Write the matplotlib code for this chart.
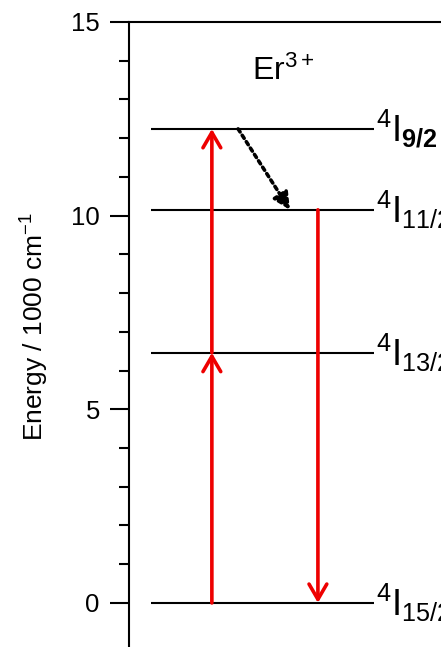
import numpy as np
import matplotlib.pyplot as plt
from matplotlib.ticker import FixedLocator

plt.rcParams['font.family'] = ['Liberation Sans', 'DejaVu Sans']
plt.rcParams['mathtext.fontset'] = 'custom'
plt.rcParams['mathtext.rm'] = 'Liberation Sans'
plt.rcParams['mathtext.it'] = 'Liberation Sans'
plt.rcParams['mathtext.bf'] = 'Liberation Sans:bold'

# Er3+ energy levels (1000 cm^-1)
level_energy = [0.0, 6.46, 10.15, 12.24]
level_j = ['15/2', '13/2', '11/2', '9/2']
level_bold = [False, False, False, True]

# transitions (from, to)
absorption = [(0.0, 6.46), (6.46, 12.24)]
emission = [(10.15, 0.0)]
relaxation = [(12.24, 10.15)]

yticks_major = [0, 5, 10, 15]
yticks_minor = list(range(0, 16))

fig = plt.figure(figsize=(4.41, 6.47), dpi=100)
ax = fig.add_axes([129/441, -0.0217, 341/441, 0.9877])
ax.set_xlim(0, 1)
ax.set_ylim(-1.5, 15)

# level lines + labels
for e, j, b in zip(level_energy, level_j, level_bold):
    ax.plot([0.0645, 0.718], [e, e], color='black', lw=1.5, solid_capstyle='butt')
    if b:
        lab = r'$^{4}\mathrm{I}_{\mathbf{' + j + '}}$'
    else:
        lab = r'$^{4}\mathrm{I}_{' + j + '}$'
    ax.text(0.724, e, lab, fontsize=26, ha='left', va='center')

red_style = dict(arrowstyle='->,head_length=0.55,head_width=0.32', color='#ee0000',
                 lw=2.6, shrinkA=0, shrinkB=0, mutation_scale=20)

for lo, hi in absorption:
    ax.annotate('', xy=(0.243, hi), xytext=(0.243, lo), arrowprops=red_style)
for hi, lo in emission:
    ax.annotate('', xy=(0.554, lo), xytext=(0.554, hi), arrowprops=red_style)
for hi, lo in relaxation:
    ax.annotate('', xy=(0.472, lo), xytext=(0.320, hi),
                arrowprops=dict(arrowstyle='-|>,head_length=0.5,head_width=0.25',
                                color='black', lw=2.6, linestyle=(0, (1, 1.1)),
                                shrinkA=0, shrinkB=0, mutation_scale=20))

ax.text(0.452, 13.72, r'Er$^{3+}$', fontsize=23, ha='center', va='center')

for s in ['right', 'bottom']:
    ax.spines[s].set_visible(False)
ax.spines['left'].set_linewidth(1.5)
ax.spines['top'].set_linewidth(1.5)

ax.set_xticks([])
ax.yaxis.set_major_locator(FixedLocator(yticks_major))
ax.yaxis.set_minor_locator(FixedLocator(yticks_minor))
ax.tick_params(axis='y', which='major', direction='out', length=14, width=1.5, pad=7, labelsize=18.5)
ax.tick_params(axis='y', which='minor', direction='out', length=7, width=1.5)
ax.set_ylabel(r'Energy / 1000 cm$^{-1}$', fontsize=19)
ax.yaxis.set_label_coords(-0.23, 0.524)

fig.savefig('out.png', dpi=100)
